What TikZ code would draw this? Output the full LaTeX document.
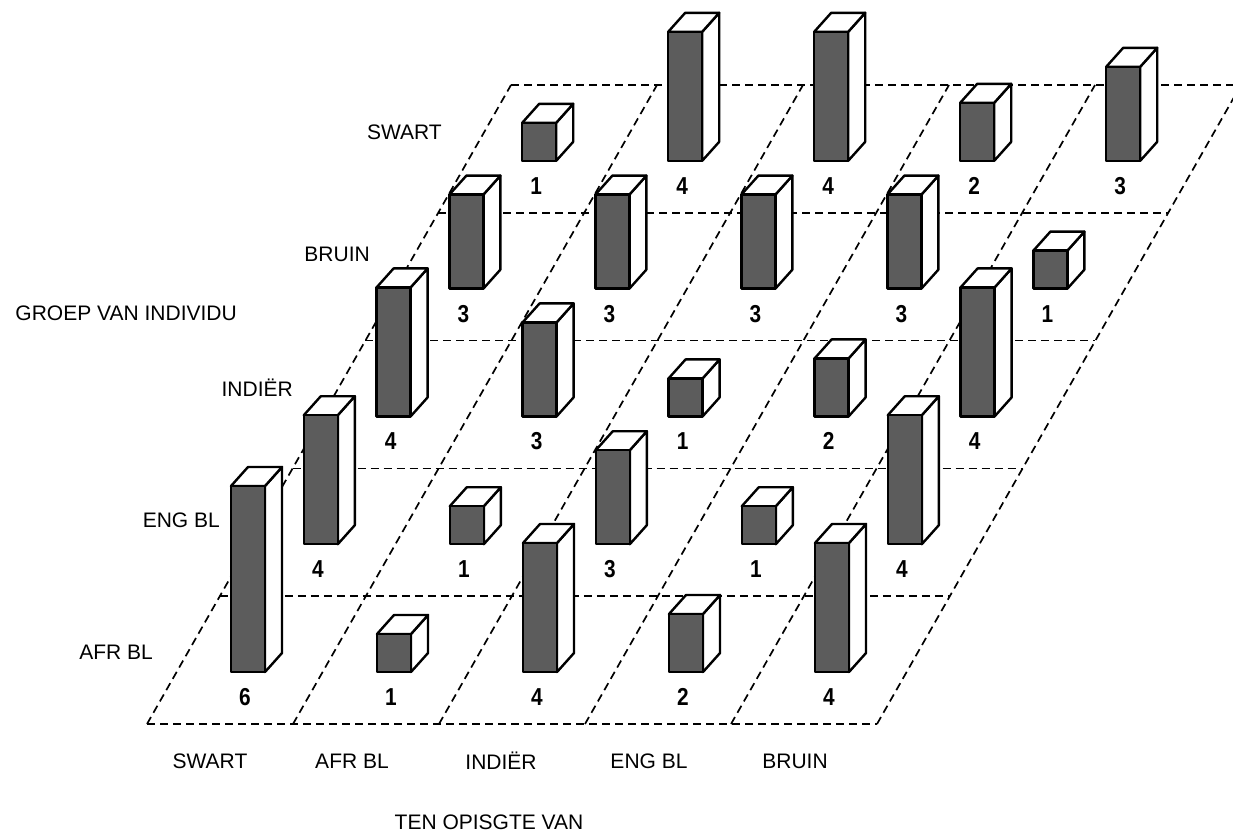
\documentclass[tikz,border=0pt]{standalone}
\usepackage{fontspec}
\newfontfamily\labfont{Liberation Sans}
\newfontfamily\numfont[FakeStretch=0.85]{Liberation Sans}
\tikzset{
  gridline/.style={line width=1.7pt, dash pattern=on 8pt off 5pt},
  face/.style={draw=black, line width=2.4pt, line join=round},
  frontface/.style={face, fill=black!64},
  sideface/.style={face, fill=white},
  cat/.style={font=\labfont\fontsize{21}{24}\selectfont, inner sep=0pt},
  val/.style={font=\numfont\bfseries\fontsize{24.5}{27}\selectfont, inner sep=0pt},
}
% #1 column, #2 row (0 = front), #3 height, #4 label
\newcommand\drawbar[4]{%
  \pgfmathsetmacro\bx{231+146*#1+72.8*#2}%
  \pgfmathsetmacro\by{672-127.8*#2}%
  \draw[sideface] (\bx+34,\by) -- ++(0,-#3) -- ++(17,-19) -- ++(0,#3) -- cycle;
  \draw[sideface] (\bx,\by-#3) -- ++(17,-19) -- ++(34,0) -- ++(-17,19) -- cycle;
  \draw[frontface] (\bx,\by) rectangle ++(34,-#3);
  \node[val] (v-#2-#1) at (\bx+14,\by+25) {#4};
}
\begin{document}
\begin{tikzpicture}[x=1pt,y=-1pt]
\useasboundingbox (0,0) rectangle (1233,839);
\begin{scope}
\clip (0,0) rectangle (1233,839);
\foreach \k in {0,...,5} {
  \draw[gridline] ({147+72.8*\k},{724-127.8*\k}) -- ++(730,0);
  \draw[gridline] ({147+146*\k},724) -- ++(364,-639);
}
\end{scope}
% row SWART (back)
\drawbar{0}{4}{38}{1}
\drawbar{1}{4}{129}{4}
\drawbar{2}{4}{129}{4}
\drawbar{3}{4}{58}{2}
\drawbar{4}{4}{94}{3}
% row BRUIN
\drawbar{0}{3}{94}{3}
\drawbar{1}{3}{94}{3}
\drawbar{2}{3}{94}{3}
\drawbar{3}{3}{94}{3}
\drawbar{4}{3}{38}{1}
% row INDIER
\drawbar{0}{2}{129}{4}
\drawbar{1}{2}{94}{3}
\drawbar{2}{2}{38}{1}
\drawbar{3}{2}{58}{2}
\drawbar{4}{2}{129}{4}
% row ENG BL
\drawbar{0}{1}{129}{4}
\drawbar{1}{1}{38}{1}
\drawbar{2}{1}{94}{3}
\drawbar{3}{1}{38}{1}
\drawbar{4}{1}{129}{4}
% row AFR BL (front)
\drawbar{0}{0}{186}{6}
\drawbar{1}{0}{38}{1}
\drawbar{2}{0}{129}{4}
\drawbar{3}{0}{58}{2}
\drawbar{4}{0}{129}{4}
% row labels
\node[cat, anchor=east] (r4) at (442,132) {SWART};
\node[cat, anchor=east] (r3) at (370,254) {BRUIN};
\node[cat, anchor=east] (rt) at (237,313) {GROEP VAN INDIVIDU};
\node[cat, anchor=east] (r2) at (293,388) {INDIËR};
\node[cat, anchor=east] (r1) at (220,520) {ENG BL};
\node[cat, anchor=east] (r0) at (153,652) {AFR BL};
% column labels
\node[cat] (c0) at (210,761) {SWART};
\node[cat] (c1) at (352,761) {AFR BL};
\node[cat] (c2) at (501,761) {INDIËR};
\node[cat] (c3) at (649,761) {ENG BL};
\node[cat] (c4) at (795,761) {BRUIN};
\node[cat] (ct) at (489,822) {TEN OPISGTE VAN};
\end{tikzpicture}
\end{document}
